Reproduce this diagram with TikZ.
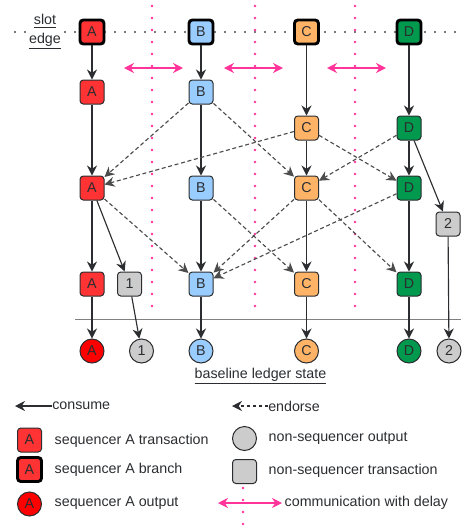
\documentclass[tikz,border=0pt]{standalone}
\usepackage{fontspec}
\setmainfont{Liberation Sans}
\usepackage{tikz}
\usetikzlibrary{arrows.meta}
\usepackage{xcolor}
\definecolor{seqA}{HTML}{FF3333}
\definecolor{seqAout}{HTML}{FF0000}
\definecolor{seqB}{HTML}{99CCFF}
\definecolor{seqC}{HTML}{FFB366}
\definecolor{seqD}{HTML}{00994D}
\definecolor{nonseq}{HTML}{CCCCCC}
\definecolor{inkgray}{HTML}{2B2D30}
\definecolor{delaypink}{HTML}{FF3399}
\tikzset{%
    txn/.style={%
        draw=inkgray, fill=#1, text=inkgray, line width=0.75pt,
        rounded corners=2.5pt, minimum size=18pt, inner sep=0pt
    },
    branch/.style={txn=#1, draw=black, line width=2.2pt},
    outp/.style={%
        circle, draw=inkgray, fill=#1, text=inkgray, line width=0.75pt,
        minimum size=18pt, inner sep=0pt
    },
    consume/.style={draw=inkgray, line width=0.85pt, -{Stealth[length=7.5pt,width=7.5pt]}},
    endorse/.style={consume, draw=black!70, dash pattern=on 3pt off 2pt},
    comm/.style={draw=delaypink, line width=1.1pt,
        {Stealth[length=7.5pt,width=7.5pt]}-{Stealth[length=7.5pt,width=7.5pt]}},
    slotline/.style={draw=black!70, line width=1.8pt, line cap=round, dash pattern=on 0pt off 7.5pt},
    delayline/.style={draw=delaypink, line width=2pt, line cap=round, dash pattern=on 0pt off 9pt}
}

\begin{document}
\begin{tikzpicture}[x=0.75pt,y=-0.75pt,font=\fontsize{10.7}{13}\selectfont]
    \useasboundingbox (0,0) rectangle (463,526);
    \draw[slotline] (15,32) -- (460,32);
    \foreach \x in {152,255,355}
    {
    \draw[delayline] (\x,6) -- (\x,307);
    }
    \foreach \i/\l/\r in {1/124/183,2/224/283,3/327/386}
    {
    \coordinate (dl\i) at (\l,68);
    \coordinate (dr\i) at (\r,68);
    \draw[comm] (dl\i) -- (dr\i);
    }
    \node[fill=white, inner xsep=2pt, inner ysep=0pt, align=center, text=inkgray,
        font=\fontsize{10.7}{14.25}\selectfont] (slotedge) at (45,32)
        {\underline{slot}\\\underline{edge}};

    \node[branch=seqA] (A0) at (92,32) {A};
    \node[branch=seqB] (B0) at (201,32) {B};
    \node[branch=seqC] (C0) at (306.5,32) {C};
    \node[branch=seqD] (D0) at (409,32) {D};

    \node[txn=seqA] (A1) at (92,92) {A};
    \node[txn=seqB] (B1) at (201,92) {B};
    \node[txn=seqC] (C1) at (306.5,128) {C};
    \node[txn=seqD] (D1) at (409,128) {D};

    \node[txn=seqA] (A2) at (92,188) {A};
    \node[txn=seqB] (B2) at (201,188) {B};
    \node[txn=seqC] (C2) at (306.5,188) {C};
    \node[txn=seqD] (D2) at (409,188) {D};
    \node[txn=nonseq] (N2) at (448,224) {2};

    \node[txn=seqA] (A3) at (92,284) {A};
    \node[txn=nonseq] (N1) at (129.5,284) {1};
    \node[txn=seqB] (B3) at (201,284) {B};
    \node[txn=seqC] (C3) at (306.5,284) {C};
    \node[txn=seqD] (D3) at (409,284) {D};

    \draw[gray, line width=0.75pt] (75,319) -- (461,319);

    \node[outp=seqAout] (Aout) at (92,351) {A};
    \node[outp=nonseq] (N1out) at (141.5,351) {1};
    \node[outp=seqB] (Bout) at (201,351) {B};
    \node[outp=seqC] (Cout) at (306.5,351) {C};
    \node[outp=seqD] (Dout) at (409,351) {D};
    \node[outp=nonseq] (N2out) at (449,351) {2};
    \node[text=inkgray] (ledger) at (260.5,376) {\underline{baseline ledger state}};

    \foreach \s/\t in {A0/A1,A1/A2,A2/A3,A2/N1,A3/Aout,N1/N1out,
        B0/B1,B1/B2,B2/B3,B3/Bout,C0/C1,C1/C2,C2/C3,C3/Cout,
        D0/D1,D1/D2,D1/N2,D2/D3,D3/Dout,N2/N2out}
    {
    \draw[consume] (\s) -- (\t);
    }
    \foreach \s/\t in {B1/A2,C1/A2,B1/C2,C1/D2,D1/C2,
        A2/B3,B2/C3,C2/B3,D2/B3,C2/D3}
    {
    \draw[endorse] (\s) -- (\t);
    }

    % legend
    \node[anchor=west, inner sep=0pt, text=inkgray] (consumetxt) at (52,406) {consume};
    \coordinate (consumeend) at (15,406);
    \draw[consume] (consumetxt.west) -- (consumeend);
    \node[anchor=west, inner sep=0pt, text=inkgray] (endorsetxt) at (268,406) {endorse};
    \coordinate (endorseend) at (232,406);
    \draw[endorse, draw=inkgray, dash pattern=on 2.5pt off 2pt] (endorsetxt.west) -- (endorseend);

    \node[txn=seqA] (legtxn) at (29.5,440) {A};
    \node[anchor=west, text=inkgray] (legtxntxt) at (50,441) {sequencer A transaction};
    \node[branch=seqA] (legbranch) at (29.5,469.5) {A};
    \node[anchor=west, text=inkgray] (legbranchtxt) at (50,470) {sequencer A branch};
    \node[outp=seqAout] (legout) at (29.5,504) {A};
    \node[anchor=west, text=inkgray] (legouttxt) at (50,503) {sequencer A output};

    \node[outp=nonseq] (legnsout) at (244.5,438.5) {};
    \node[anchor=west, text=inkgray] (legnsouttxt) at (264,438) {non-sequencer output};
    \node[txn=nonseq] (legnstxn) at (244.5,471.5) {};
    \node[anchor=west, text=inkgray] (legnstxntxt) at (264,471) {non-sequencer transaction};
    \draw[delayline] (243,488) -- (243,526);
    \coordinate (legcl) at (218,503);
    \coordinate (legcr) at (282,503);
    \draw[comm] (legcl) -- (legcr);
    \node[anchor=west, text=inkgray] (legcommtxt) at (280,503) {communication with delay};
\end{tikzpicture}
\end{document}
